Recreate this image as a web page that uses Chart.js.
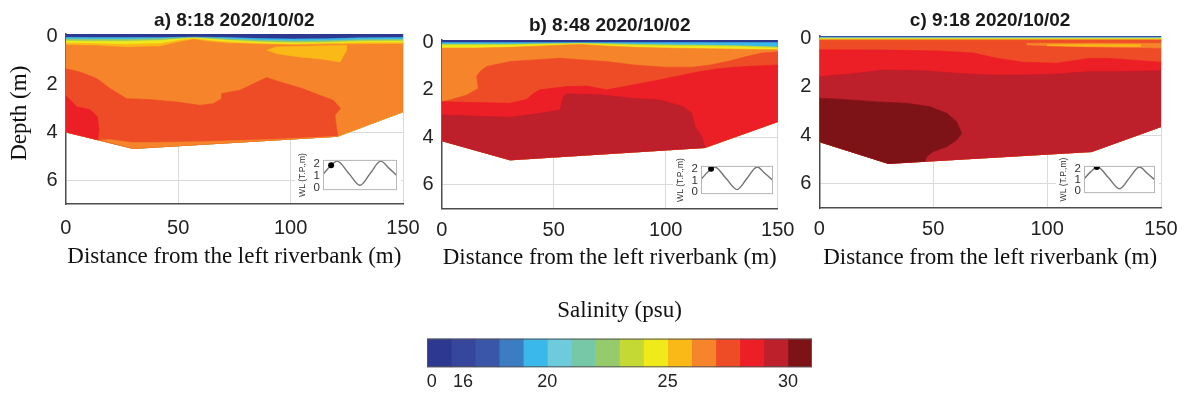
<!DOCTYPE html>
<html>
<head>
<meta charset="utf-8">
<script src="https://cdn.jsdelivr.net/npm/chart.js@4.4.1/dist/chart.umd.min.js"></script>
<style>
  html, body { margin: 0; padding: 0; background: #fff; }
  #fig { position: relative; width: 1187px; height: 403px; overflow: hidden; }
  #fig canvas { position: absolute; }
</style>
</head>
<body>
<div id="fig">
  <canvas id="panelA" width="432" height="275" style="left:0;top:0"></canvas>
  <canvas id="panelB" width="404" height="280" style="left:400px;top:0"></canvas>
  <canvas id="panelC" width="407" height="280" style="left:780px;top:0"></canvas>
  <canvas id="insetA" width="106" height="50" style="left:295px;top:150px"></canvas>
  <canvas id="insetB" width="104" height="48" style="left:673px;top:156px"></canvas>
  <canvas id="insetC" width="103" height="47" style="left:1056px;top:156px"></canvas>
  <canvas id="colorbar" width="430" height="113" style="left:400px;top:290px"></canvas>
</div>
<script>
// salinity classes (psu): 0-16, then 1 psu steps up to 31
const salinityColors = ['#2d3990', '#36469c', '#3a56a8', '#3c7cc1', '#3ab8ea', '#6dcbdc', '#77c8a6', '#96cb6b',
                        '#c5d935', '#f1ea1b', '#fbb918', '#f5842a', '#ee4c26', '#ec1f26', '#bd1f2b', '#7e1317'];
const colorbarTickPos = [0.2, 1.5, 5, 10, 15];
const colorbarLabels = ['0', '16', '20', '25', '30'];

const depthTicks = [0, 2, 4, 6];
const surfD = [0, 150];
const surfZ = [-0.3, -0.3];

// ---- a) 8:18 ----
const bedA_d = [0, 30, 121, 150];
const bedA_z = [3.99, 4.68, 4.17, 3.15];
const bandA_d = [0, 12, 27, 42, 50, 57, 64, 72, 86, 101, 116, 131, 150];
const aCyan   = [0.04, 0.05, 0.05, 0.05, 0.04, 0.03, 0.04, 0.05, 0.09, 0.11, 0.10, 0.06, 0.05];
const aGreen  = [0.11, 0.12, 0.12, 0.10, 0.07, 0.05, 0.07, 0.11, 0.16, 0.19, 0.18, 0.14, 0.13];
const aYellow = [0.19, 0.20, 0.20, 0.17, 0.11, 0.07, 0.11, 0.16, 0.23, 0.27, 0.25, 0.20, 0.19];
const aGold   = [0.28, 0.30, 0.33, 0.30, 0.17, 0.09, 0.17, 0.23, 0.30, 0.33, 0.30, 0.27, 0.27];
const aOrange = [0.36, 0.38, 0.45, 0.42, 0.24, 0.13, 0.22, 0.29, 0.33, 0.36, 0.34, 0.33, 0.32];
const aRedOrange_d = [0, 6.4, 13.8, 19.7, 27.1, 37.5, 49.3, 59.7, 65.6, 69.3, 69.3, 77.5, 89.3, 95.3, 104.1, 113, 119, 122.2, 119.7, 120.4, 121];
const aRedOrange_z = [1.35, 1.49, 1.76, 2.18, 2.6, 2.64, 2.74, 2.88, 2.81, 2.6, 2.39, 2.25, 1.72, 1.9, 2.14, 2.46, 2.67, 3.01, 3.29, 3.78, 4.17];
const aRed_d = [0, 4.9, 10.8, 14.1, 14.8, 14.2];
const aRed_z = [2.46, 2.94, 3.06, 3.36, 3.92, 4.32];
const aStrip_d = [15.3, 19.7, 30.1, 59.7, 89.3, 119, 121];
const aStrip_z = [4.34, 4.31, 4.44, 4.4, 4.31, 4.19, 4.17];
const aPatch_d = [89.3, 93.8, 110, 124.9, 124.9, 122, 113, 104, 93.8];
const aPatch_z = [0.58, 0.44, 0.4, 0.375, 0.58, 1.07, 0.93, 0.86, 0.72];

// ---- b) 8:48 ----
const bedB_d = [0, 30.5, 117.6, 150];
const bedB_z = [4.14, 4.95, 4.43, 3.34];
const bandB_d = [0, 15, 30, 45, 55, 62, 75, 90, 105, 120, 135, 150];
const bCyan   = [0.01, 0.01, 0.01, 0.01, 0.01, 0.01, 0.01, 0.01, 0.01, 0.01, 0.01, 0.01];
const bGreen  = [0.08, 0.08, 0.08, 0.06, 0.05, 0.04, 0.06, 0.09, 0.11, 0.12, 0.15, 0.20];
const bYellow = [0.13, 0.13, 0.12, 0.09, 0.07, 0.06, 0.10, 0.14, 0.16, 0.17, 0.20, 0.25];
const bOrange = [0.24, 0.24, 0.21, 0.15, 0.11, 0.09, 0.16, 0.22, 0.25, 0.27, 0.29, 0.31];
const bRedOrange_d = [0, 3.7, 11.2, 16.4, 15.6, 17.1, 20.1, 30.5, 40.9, 52.8, 63.2, 73.7, 85.6, 100, 112, 120, 128, 136, 143, 150];
const bRedOrange_z = [2.5, 2.43, 2.22, 1.94, 1.44, 1.23, 1.02, 0.81, 0.74, 0.67, 0.74, 0.81, 0.95, 1.05, 1.05, 0.95, 0.8, 0.6, 0.45, 0.4];
const bRed_d = [0, 30.5, 38, 40.9, 43.9, 55.8, 64.7, 73.7, 85.6, 97.5, 107.9, 115.3, 122.8, 130.2, 140, 150];
const bRed_z = [2.5, 2.57, 2.4, 2.15, 2.0, 1.86, 1.84, 2.0, 1.79, 1.58, 1.37, 1.23, 1.12, 1.05, 1.0, 0.95];
const bDarkRed_d = [0, 30.5, 43.9, 52.8, 54.3, 55.8, 70.7, 85.6, 97.5, 107.9, 111.6, 113.1, 116.1, 117.6];
const bDarkRed_z = [3.06, 3.16, 2.99, 2.85, 2.29, 2.17, 2.21, 2.36, 2.43, 2.71, 2.99, 3.55, 3.97, 4.43];

// ---- c) 9:18 ----
const bedC_d = [0, 30.3, 119.6, 150];
const bedC_z = [4.26, 5.16, 4.67, 3.64];
const bandC_d = [0, 75, 150];
const cCyan      = [-0.05, -0.05, -0.05];
const cGreen     = [-0.02, -0.02, -0.02];
const cYellow    = [0.01, 0.01, 0.01];
const cOrange    = [0.04, 0.04, 0.04];
const cRedOrange = [0.08, 0.08, 0.08];
const cRed_d = [0, 31, 53, 67.6, 77.9, 89.6, 104.2, 111.5, 118, 125, 133, 141, 150];
const cRed_z = [0.47, 0.48, 0.52, 0.6, 0.82, 0.98, 1.02, 0.92, 0.83, 0.82, 0.86, 0.92, 0.98];
const cDarkRed_d = [0, 16.4, 28.1, 45.7, 60.3, 74.9, 89.6, 104.2, 118.8, 133.5, 150];
const cDarkRed_z = [1.58, 1.44, 1.3, 1.33, 1.44, 1.51, 1.51, 1.47, 1.37, 1.37, 1.33];
const cMaroon_d = [0, 9.1, 23.7, 38.4, 48.6, 55.9, 60.3, 62.5, 60.3, 55.9, 50, 47.1, 46.4];
const cMaroon_z = [2.47, 2.51, 2.61, 2.68, 2.82, 3.09, 3.44, 3.92, 4.19, 4.47, 4.67, 4.88, 5.07];
const cStripe_d = [91, 120, 148, 150, 150, 140, 120, 91];
const cStripe_z = [0.2, 0.19, 0.2, 0.2, 0.4, 0.37, 0.35, 0.27];
const cCore_d = [100, 120, 141, 141, 120, 100];
const cCore_z = [0.26, 0.25, 0.26, 0.33, 0.33, 0.3];

// tide gauge water level (T.P., m) over the survey day
const tideHour = [0, 1.4, 2.85, 5.2, 7.5, 9.6, 11.7, 13.4, 15];
const tideWL = [1.1, 1.75, 2.2, 1.2, 0.2, 1.2, 2.2, 1.6, 1.0];
const surveyHour = [1.65, 2.1, 2.7];
const surveyWL = [1.86, 2.05, 2.19];

// [colour class, distances, depths, closed]; painted in this order
const layersA = [
  [0, surfD, surfZ], [4, bandA_d, aCyan], [7, bandA_d, aGreen], [9, bandA_d, aYellow],
  [10, bandA_d, aGold], [11, bandA_d, aOrange], [12, aRedOrange_d, aRedOrange_z],
  [13, aRed_d, aRed_z], [11, aStrip_d, aStrip_z], [10, aPatch_d, aPatch_z, true]
];
const layersB = [
  [0, surfD, surfZ], [4, bandB_d, bCyan], [8, bandB_d, bGreen], [9, bandB_d, bYellow],
  [11, bandB_d, bOrange], [12, bRedOrange_d, bRedOrange_z], [13, bRed_d, bRed_z],
  [14, bDarkRed_d, bDarkRed_z]
];
const layersC = [
  [0, surfD, surfZ], [5, bandC_d, cCyan], [7, bandC_d, cGreen], [9, bandC_d, cYellow],
  [11, bandC_d, cOrange], [12, bandC_d, cRedOrange], [13, cRed_d, cRed_z],
  [14, cDarkRed_d, cDarkRed_z], [15, cMaroon_d, cMaroon_z],
  [11, cStripe_d, cStripe_z, true], [10, cCore_d, cCore_z, true]
];

// frame + white background for the small charts
const framePlugin = {
  id: 'frame',
  defaults: {},
  beforeDraw(chart, args, opts) {
    if (!opts.background) return;
    const ctx = chart.ctx;
    ctx.save();
    ctx.fillStyle = opts.background;
    ctx.fillRect(0, 0, chart.width, chart.height);
    ctx.restore();
  },
  afterDatasetsDraw(chart, args, opts) {
    if (!opts.color) return;
    const { left, top, width, height } = chart.chartArea;
    const ctx = chart.ctx;
    ctx.save();
    ctx.strokeStyle = opts.color;
    ctx.lineWidth = 1;
    ctx.strokeRect(left + 0.5, top + 0.5, width - 1, height - 1);
    ctx.restore();
  }
};
Chart.register(framePlugin);

const SANS = "'Liberation Sans', Arial, sans-serif";
const SERIF = "'Liberation Serif', 'Times New Roman', serif";

// region outline down to the river bed
function layerPolygon(layer, bedD, bedZ) {
  const ds = layer[1], zs = layer[2];
  const pts = ds.map((d, i) => ({ x: d, y: zs[i] }));
  if (layer[3]) return pts;
  const d0 = ds[0], d1 = ds[ds.length - 1];
  for (let i = bedD.length - 1; i >= 0; i--) {
    if (bedD[i] <= d1 && bedD[i] >= d0) pts.push({ x: bedD[i], y: bedZ[i] });
  }
  return pts;
}

function renderSection(g) {
  const datasets = g.layers.map((L, i) => ({
    data: layerPolygon(L, g.bedD, g.bedZ),
    backgroundColor: salinityColors[L[0]],
    borderColor: salinityColors[L[0]],
    borderWidth: 0.6,
    fill: 'shape',
    pointRadius: 0,
    tension: 0,
    order: g.layers.length - i
  }));

  new Chart(document.getElementById(g.id), {
    type: 'line',
    data: { datasets },
    options: {
      responsive: false,
      animation: false,
      events: [],
      layout: { padding: { left: 0, right: g.padRight, top: 0, bottom: 0 } },
      plugins: {
        legend: { display: false },
        tooltip: { enabled: false },
        title: {
          display: true, text: g.title, fullSize: false, color: '#1a1a1a',
          font: { family: SANS, size: 19, weight: 'bold' },
          padding: { top: g.titleTop, bottom: g.titleBottom }
        }
      },
      scales: {
        x: {
          type: 'linear', min: 0, max: 150,
          afterFit: s => { s.height = g.xAxisH; },
          ticks: { stepSize: 50, padding: g.xTickPad, maxRotation: 0, color: '#222', font: { family: SANS, size: 20 } },
          grid: { color: '#dadada', drawTicks: false },
          border: { color: '#4d4d4d', width: 1.5 },
          title: {
            display: true, text: 'Distance from the left riverbank (m)', color: '#111',
            font: { family: SERIF, size: 23 }, padding: { top: 0, bottom: g.xTitlePad }
          }
        },
        y: {
          type: 'linear', reverse: true, min: -0.1, max: 7,
          afterFit: s => { s.width = g.yAxisW; },
          afterBuildTicks: s => { s.ticks = depthTicks.map(v => ({ value: v })); },
          ticks: { padding: 8, color: '#222', font: { family: SANS, size: 20 } },
          grid: { color: '#dadada', drawTicks: false },
          border: { color: '#4d4d4d', width: 1.5 },
          title: {
            display: !!g.yTitle, text: g.yTitle || '', color: '#111',
            font: { family: SERIF, size: 23 }, padding: { top: 6, bottom: 0 }
          }
        }
      }
    }
  });
}

function renderTide(id, k, padBottom) {
  new Chart(document.getElementById(id), {
    type: 'line',
    data: {
      datasets: [
        {
          data: tideHour.map((h, i) => ({ x: h, y: tideWL[i] })),
          borderColor: '#747474', borderWidth: 1.4, pointRadius: 0,
          cubicInterpolationMode: 'monotone', fill: false, order: 1
        },
        {
          data: [{ x: surveyHour[k], y: surveyWL[k] }],
          showLine: false, pointRadius: 3, pointBackgroundColor: '#000',
          pointBorderColor: '#000', pointBorderWidth: 0, order: 0
        }
      ]
    },
    options: {
      responsive: false,
      animation: false,
      events: [],
      layout: { padding: { left: 0, right: 2, top: 6, bottom: padBottom } },
      plugins: {
        legend: { display: false },
        tooltip: { enabled: false },
        frame: { color: '#b5b5b5', background: '#fff' }
      },
      scales: {
        x: { type: 'linear', min: 0, max: 15, display: false },
        y: {
          type: 'linear', min: -0.2, max: 2.3,
          afterFit: s => { s.width = 28; },
          afterBuildTicks: s => { s.ticks = [0, 1, 2].map(v => ({ value: v })); },
          ticks: { autoSkip: false, padding: 3, color: '#333', font: { family: SANS, size: 11.5 } },
          grid: { display: false, drawTicks: false },
          border: { display: false },
          title: {
            display: true, text: 'WL (T.P.,m)', color: '#333',
            font: { family: SANS, size: 8.5 }, padding: { top: 2.4, bottom: 0 }
          }
        }
      }
    }
  });
}

renderSection({ id: 'panelA', title: 'a) 8:18 2020/10/02', yTitle: '  Depth (m)', padRight: 29,
  titleTop: 9, titleBottom: 2.2, yAxisW: 65.7, xAxisH: 71, xTickPad: 12, xTitlePad: 4.6,
  bedD: bedA_d, bedZ: bedA_z, layers: layersA });
renderSection({ id: 'panelB', title: 'b) 8:48 2020/10/02', padRight: 26.3,
  titleTop: 14, titleBottom: 3.2, yAxisW: 41.7, xAxisH: 71.5, xTickPad: 9.5, xTitlePad: 8.2,
  bedD: bedB_d, bedZ: bedB_z, layers: layersB });
renderSection({ id: 'panelC', title: 'c) 9:18 2020/10/02', padRight: 26,
  titleTop: 9.3, titleBottom: 3.9, yAxisW: 39.3, xAxisH: 72, xTickPad: 9.3, xTitlePad: 8.2,
  bedD: bedC_d, bedZ: bedC_z, layers: layersC });

renderTide('insetA', 0, 7);
renderTide('insetB', 1, 4);
renderTide('insetC', 2, 4);

// colour bar
new Chart(document.getElementById('colorbar'), {
  type: 'bar',
  data: {
    labels: [''],
    datasets: salinityColors.map((c, i) => ({
      data: [[i, i + 1]], backgroundColor: c, borderWidth: 0,
      barPercentage: 1, categoryPercentage: 1, grouped: false
    }))
  },
  options: {
    indexAxis: 'y',
    responsive: false,
    animation: false,
    events: [],
    layout: { padding: { left: 27, right: 18, top: 0, bottom: 0 } },
    plugins: {
      legend: { display: false },
      tooltip: { enabled: false },
      title: {
        display: true, text: 'Salinity (psu)', fullSize: false, color: '#111',
        font: { family: SERIF, size: 23, weight: 'normal' }, padding: { top: 7, bottom: 14 }
      },
      frame: { color: '#555' }
    },
    scales: {
      y: { display: false },
      x: {
        type: 'linear', min: 0, max: 16,
        afterFit: s => { s.height = 35.7; },
        afterBuildTicks: s => { s.ticks = colorbarTickPos.map(v => ({ value: v })); },
        ticks: {
          autoSkip: false, maxRotation: 0, padding: 4, color: '#222',
          font: { family: SANS, size: 18 },
          callback: (v, i) => colorbarLabels[i]
        },
        grid: { display: false, drawTicks: false },
        border: { display: false }
      }
    }
  }
});
</script>
</body>
</html>
